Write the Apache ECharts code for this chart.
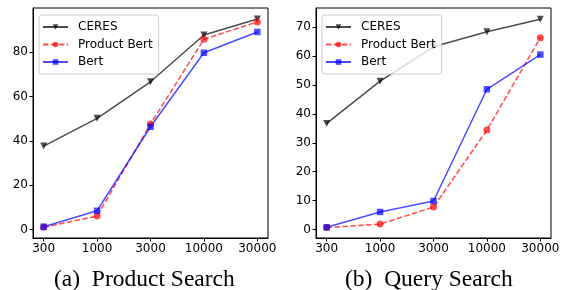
<!DOCTYPE html>
<html>
<head>
<meta charset="utf-8">
<script src="https://cdn.jsdelivr.net/npm/echarts@6/dist/echarts.min.js"></script>
<style>
  html, body { margin: 0; padding: 0; background: #fff; }
  #chart { width: 564px; height: 290px; }
</style>
</head>
<body>
<div id="chart"></div>
<script>
// training sizes (x ticks)
const sizes = ['300', '1000', '3000', '10000', '30000'];

// (a) product search
const productCeres = [37.7, 50.2, 66.7, 87.8, 95.0];
const productProductBert = [1.0, 6.1, 47.6, 85.9, 93.7];
const productBert = [1.3, 8.5, 46.4, 79.8, 89.2];
const productTicks = [0, 20, 40, 60, 80];

// (b) query search
const queryCeres = [36.7, 51.3, 63.2, 68.4, 72.7];
const queryProductBert = [0.7, 1.9, 7.8, 34.4, 66.3];
const queryBert = [0.8, 6.1, 9.9, 48.5, 60.5];
const queryTicks = [0, 10, 20, 30, 40, 50, 60, 70];

const captions = ['(a)  Product Search', '(b)  Query Search'];

const chart = echarts.init(document.getElementById('chart'));

const styles = {
  'CERES': { color: 'rgba(0,0,0,0.7)', symbol: 'triangle', rotate: 180, size: 7, type: 'solid' },
  'Product Bert': { color: 'rgba(255,0,0,0.7)', symbol: 'circle', rotate: 0, size: 7, type: [5.5, 2.4] },
  'Bert': { color: 'rgba(0,0,255,0.7)', symbol: 'rect', rotate: 0, size: 6.5, type: 'solid' }
};

function mkSeries(name, vals, idx) {
  const s = styles[name];
  return {
    name: name,
    type: 'line',
    xAxisIndex: idx,
    yAxisIndex: idx,
    data: vals.map((v, i) => [i, v]),
    symbol: s.symbol,
    symbolRotate: s.rotate,
    symbolSize: s.size,
    showAllSymbol: true,
    lineStyle: { color: s.color, width: 1.5, type: s.type },
    itemStyle: { color: s.color },
    animation: false
  };
}

function xAx(idx) {
  return {
    type: 'value', gridIndex: idx, min: -0.2, max: 4.2,
    axisLine: { show: true, onZero: false, lineStyle: { color: '#000', width: 1 } },
    splitLine: { show: false },
    axisTick: { show: true, length: 3.5, customValues: [0, 1, 2, 3, 4], lineStyle: { color: '#000' } },
    axisLabel: {
      customValues: [0, 1, 2, 3, 4], margin: 5,
      formatter: v => sizes[Math.round(v)],
      color: '#000', fontSize: 12, fontFamily: 'DejaVu Sans'
    }
  };
}

function yAx(idx, min, max, ticks) {
  return {
    type: 'value', gridIndex: idx, min: min, max: max,
    axisLine: { show: true, onZero: false, lineStyle: { color: '#000', width: 1 } },
    splitLine: { show: false },
    axisTick: { show: true, length: 3.5, customValues: ticks, lineStyle: { color: '#000' } },
    axisLabel: {
      customValues: ticks, margin: 5,
      color: '#000', fontSize: 12, fontFamily: 'DejaVu Sans'
    }
  };
}

function mkLegend(left) {
  return {
    orient: 'vertical',
    left: left, top: 15,
    padding: [5, 6, 5, 3],
    itemWidth: 25, itemHeight: 7, itemGap: 3.5,
    backgroundColor: 'rgba(255,255,255,0.8)',
    borderColor: '#cccccc', borderWidth: 1, borderRadius: 3,
    data: ['CERES', 'Product Bert', 'Bert'],
    textStyle: { fontSize: 12, fontFamily: 'DejaVu Sans', color: '#000', padding: [0, 0, 0, 5], lineHeight: 14 },
    selectedMode: false
  };
}

chart.setOption({
  animation: false,
  grid: [
    { left: 33, top: 8, width: 235, height: 230, show: true, borderColor: '#000', borderWidth: 1, backgroundColor: 'transparent' },
    { left: 316, top: 8, width: 235, height: 230, show: true, borderColor: '#000', borderWidth: 1, backgroundColor: 'transparent' }
  ],
  xAxis: [xAx(0), xAx(1)],
  yAxis: [yAx(0, -3.8, 100, productTicks), yAx(1, -2.9, 76.6, queryTicks)],
  legend: [mkLegend(39), mkLegend(322)],
  series: [
    mkSeries('CERES', productCeres, 0),
    mkSeries('Product Bert', productProductBert, 0),
    mkSeries('Bert', productBert, 0),
    mkSeries('CERES', queryCeres, 1),
    mkSeries('Product Bert', queryProductBert, 1),
    mkSeries('Bert', queryBert, 1)
  ],
  graphic: [
    { type: 'text', left: 54, top: 268, style: { text: captions[0], font: '23.5px "Liberation Serif"', fill: '#000' } },
    { type: 'text', left: 345, top: 268, style: { text: captions[1], font: '23.5px "Liberation Serif"', fill: '#000' } }
  ]
});
</script>
</body>
</html>
